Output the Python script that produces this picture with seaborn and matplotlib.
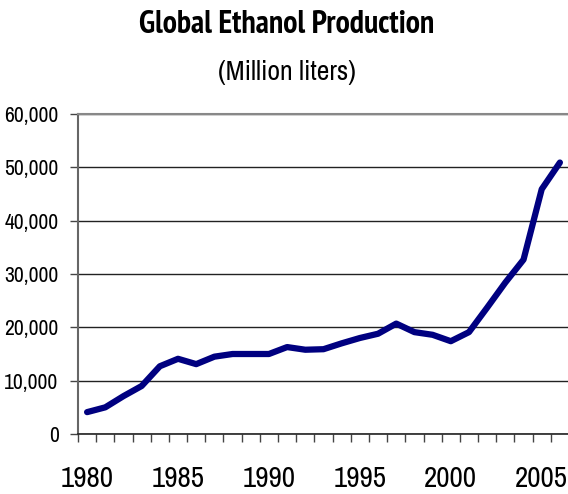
import matplotlib
matplotlib.use('Agg')
import matplotlib.pyplot as plt
import matplotlib.ticker as mticker
import seaborn as sns
import pandas as pd

years = list(range(1980, 2007))
production = [4100, 5000, 7100, 9000, 12700, 14100, 13100, 14500, 15000, 15000,
              15000, 16300, 15800, 15900, 17000, 18000, 18800, 20700, 19100, 18600,
              17400, 19100, 23700, 28400, 32700, 45900, 50900]
year_labels = [1980, 1985, 1990, 1995, 2000, 2005]

df = pd.DataFrame({'Year': years, 'Production': production})

sns.set_style('white')
plt.rcParams['font.family'] = ['Archivo Narrow', 'PT Sans Narrow', 'DejaVu Sans']
plt.rcParams['text.color'] = 'black'
plt.rcParams['xtick.color'] = 'black'
plt.rcParams['ytick.color'] = 'black'

fig = plt.figure(figsize=(5.68, 4.94), dpi=100)
ax = fig.add_axes([78 / 568, 60 / 494, 491 / 568, 320 / 494])

sns.lineplot(data=df, x='Year', y='Production', ax=ax, color='#000080',
             linewidth=4.5, solid_capstyle='round', solid_joinstyle='round', zorder=3)

ax.set_ylim(0, 60000)
ax.set_xlim(1979.5, 2006.5)
ax.yaxis.set_major_locator(mticker.MultipleLocator(10000))
ax.yaxis.set_major_formatter(mticker.FuncFormatter(lambda v, p: f'{int(v):,}'))
ax.grid(axis='y', color='#222222', linewidth=1.0)
ax.set_axisbelow(True)

ax.set_xticks(year_labels)
ax.set_xticklabels([str(y) for y in year_labels], fontsize=21)
ax.set_xticks([y - 0.5 for y in years] + [2006.5], minor=True)
ax.tick_params(axis='x', which='major', length=0, pad=22)
ax.tick_params(axis='x', which='minor', length=6, width=1, color='#444444', direction='out')
ax.tick_params(axis='y', which='major', length=6, width=1, color='#444444',
               direction='out', labelsize=15.5, pad=8)
ax.tick_params(left=True, bottom=True, which='both')

ax.spines['right'].set_visible(False)
ax.spines['top'].set_color('#888888')
ax.spines['top'].set_linewidth(1.5)
ax.spines['left'].set_color('#666666')
ax.spines['left'].set_linewidth(1.5)
ax.spines['bottom'].set_color('#222222')
ax.spines['bottom'].set_linewidth(1.2)
ax.set_xlabel('')
ax.set_ylabel('')

fig.text(287 / 568, 1 - 25 / 494, 'Global Ethanol Production', ha='center', va='center',
         fontsize=23, fontweight='bold', family=['PT Sans Narrow', 'DejaVu Sans'])
fig.text(287 / 568, 1 - 72 / 494, '(Million liters)', ha='center', va='center', fontsize=20)

fig.savefig('out.png', dpi=100)
